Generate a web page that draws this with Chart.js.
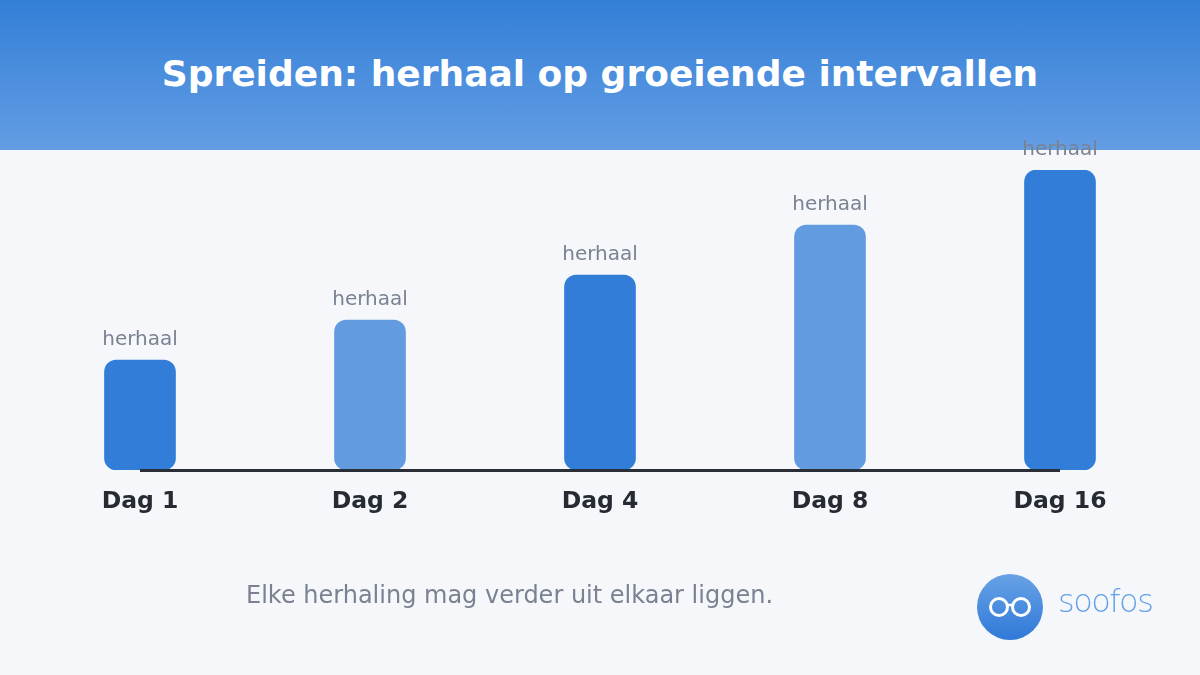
<!DOCTYPE html>
<html><head><meta charset="utf-8">
<script src="https://cdn.jsdelivr.net/npm/chart.js@4/dist/chart.umd.min.js"></script>
<style>
html,body{margin:0;padding:0;width:1200px;height:675px;background:#f5f7fb;overflow:hidden;font-family:"DejaVu Sans",sans-serif;}
#hdr{position:absolute;left:0;top:0;width:1200px;height:150px;background:linear-gradient(#337fd7,#639de4);color:#fff;font-weight:bold;font-size:36px;text-align:center;line-height:148px;}
#wrap{position:absolute;left:0;top:0;width:1200px;height:675px;}
#foot{position:absolute;left:246px;top:581px;font-size:24px;color:#7a8291;}
#logo{position:absolute;left:977px;top:574px;width:66px;height:66px;border-radius:50%;background:linear-gradient(#68a2e6,#2f79d8);}
#brand{position:absolute;left:1058px;top:582px;font-size:32px;color:#63a0e6;letter-spacing:-1.5px;font-family:"DejaVu Sans",sans-serif;font-weight:300;}
</style></head><body>
<div id="hdr">Spreiden: herhaal op groeiende intervallen</div>
<div id="wrap"><canvas id="c" width="1200" height="675"></canvas></div>
<div id="foot">Elke herhaling mag verder uit elkaar liggen.</div>
<div id="logo"><svg width="66" height="66" viewBox="0 0 66 66"><circle cx="22" cy="33" r="8.5" fill="none" stroke="#fff" stroke-width="3"/><circle cx="44" cy="33" r="8.5" fill="none" stroke="#fff" stroke-width="3"/><line x1="30" y1="31" x2="36" y2="31" stroke="#fff" stroke-width="2.5"/></svg></div>
<div id="brand">soofos</div>
<script>
const categories = ["Dag 1","Dag 2","Dag 4","Dag 8","Dag 16"];
const values = [110,150,195,245,300];
const barLabels = ["herhaal","herhaal","herhaal","herhaal","herhaal"];
const colors = ["#317dd7","#639be1","#317dd7","#639be1","#317dd7"];
const extra = {
  id:'extra',
  afterDatasetsDraw(chart){
    const ctx=chart.ctx, x=chart.scales.x, y=chart.scales.y;
    ctx.save();
    ctx.strokeStyle='#2a2e36'; ctx.lineWidth=3;
    ctx.beginPath(); ctx.moveTo(x.getPixelForValue(0),y.getPixelForValue(0)+0.5); ctx.lineTo(x.getPixelForValue(categories.length-1),y.getPixelForValue(0)+0.5); ctx.stroke();
    ctx.fillStyle='#7a8291'; ctx.font='20px "DejaVu Sans"'; ctx.textAlign='center'; ctx.textBaseline='alphabetic';
    values.forEach((v,i)=>ctx.fillText(barLabels[i], x.getPixelForValue(i), y.getPixelForValue(v)-15));
    ctx.restore();
  }
};
new Chart(document.getElementById('c'),{
  type:'bar',
  data:{labels:categories,datasets:[{data:values,backgroundColor:colors,borderRadius:12,borderSkipped:false,barThickness:71}]},
  options:{responsive:false,animation:false,
    layout:{padding:{left:25,right:25,top:170,bottom:0}},
    plugins:{legend:{display:false},tooltip:{enabled:false}},
    scales:{
      y:{min:0,max:300,display:false},
      x:{grid:{display:false},border:{display:false},
         ticks:{color:'#252a33',font:{family:'DejaVu Sans',size:23.5,weight:'bold'},padding:10},
         afterFit(s){s.height=205;}}
    }},
  plugins:[extra]
});
</script>
</body></html>
